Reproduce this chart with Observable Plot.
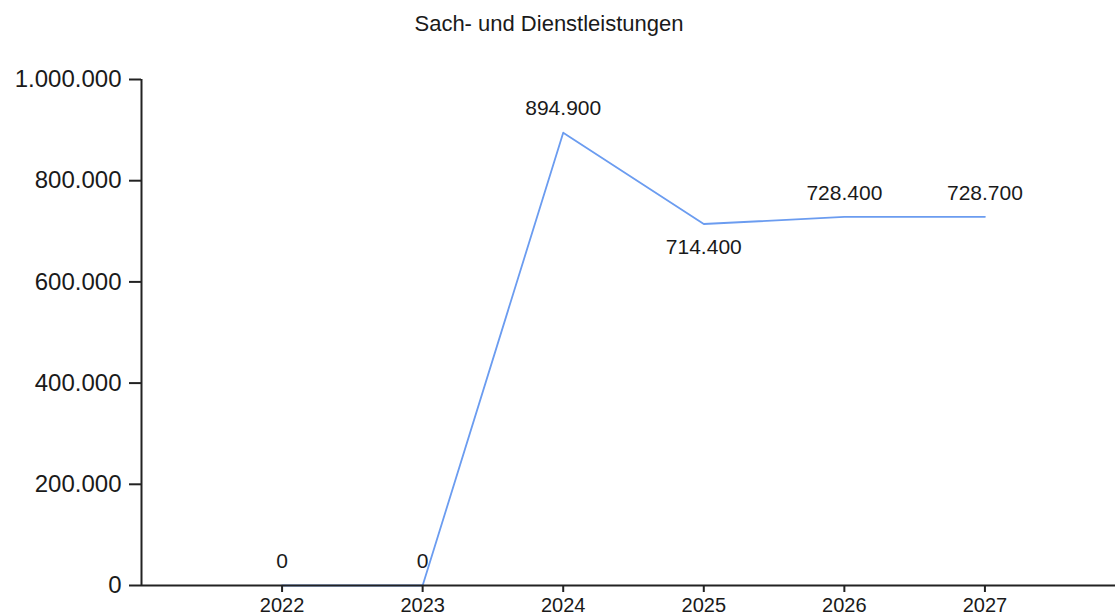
<!DOCTYPE html>
<html>
<head>
<meta charset="utf-8">
<script src="https://cdn.jsdelivr.net/npm/d3@7"></script>
<script src="https://cdn.jsdelivr.net/npm/@observablehq/plot@0.6"></script>
<style>
  html, body { margin: 0; padding: 0; background: #fff; overflow: hidden; }
  #title { height: 48px; line-height: 48px; text-align: center; font-family: "Liberation Sans", Arial, sans-serif; font-size: 22px; color: #1a1a1a; width: 1098px; padding-right: 17px; }
  #chart svg { display: block; overflow: visible; }
</style>
</head>
<body>
<div id="title"></div>
<div id="chart"></div>
<script>
const titleText = "Sach- und Dienstleistungen";
const years = [2022, 2023, 2024, 2025, 2026, 2027];
const values = [0, 0, 894900, 714400, 728400, 728700];
const yTicks = [0, 200000, 400000, 600000, 800000, 1000000];

document.getElementById("title").textContent = titleText;

const de = d3.formatLocale({decimal: ",", thousands: ".", grouping: [3], currency: ["", " €"]});
const fmt = de.format(",d");

const data = years.map((year, i) => {
  const prev = i > 0 ? values[i - 1] : Infinity;
  const next = i < values.length - 1 ? values[i + 1] : Infinity;
  const below = values[i] < prev && values[i] < next;
  return {year, value: values[i], below};
});

const font = "'Liberation Sans', Arial, sans-serif";
const ink = "#1a1a1a";

const chart = Plot.plot({
  width: 1115,
  height: 568,
  marginLeft: 141,
  marginRight: -10,
  marginTop: 31,
  marginBottom: 31,
  style: {fontFamily: font, color: ink, background: "transparent", overflow: "visible"},
  x: {domain: [2021, 2028], axis: null, label: null},
  y: {domain: [0, 1000000], axis: null, label: null},
  marks: [
    Plot.line(data, {x: "year", y: "value", stroke: "#6b9cf0", strokeWidth: 1.8}),
    Plot.ruleY([0], {x1: 2021, x2: 2028, stroke: "#222", strokeWidth: 2}),
    Plot.ruleX([2021], {y1: 0, y2: 1000000, stroke: "#222", strokeWidth: 2}),
    Plot.axisY({ticks: yTicks, tickFormat: fmt, label: null, tickSize: 12, tickPadding: 8, fontSize: 24, stroke: "#222", strokeWidth: 2, fill: ink}),
    Plot.axisX({ticks: years, tickFormat: d => String(d), label: null, tickSize: 7, tickPadding: 5, fontSize: 20, stroke: "#222", strokeWidth: 2, fill: ink}),
    Plot.text(data.filter(d => !d.below), {x: "year", y: "value", text: d => fmt(d.value), dy: -24, fontSize: 21, fill: ink}),
    Plot.text(data.filter(d => d.below), {x: "year", y: "value", text: d => fmt(d.value), dy: 23, fontSize: 21, fill: ink})
  ]
});
document.getElementById("chart").appendChild(chart);
</script>
</body>
</html>
